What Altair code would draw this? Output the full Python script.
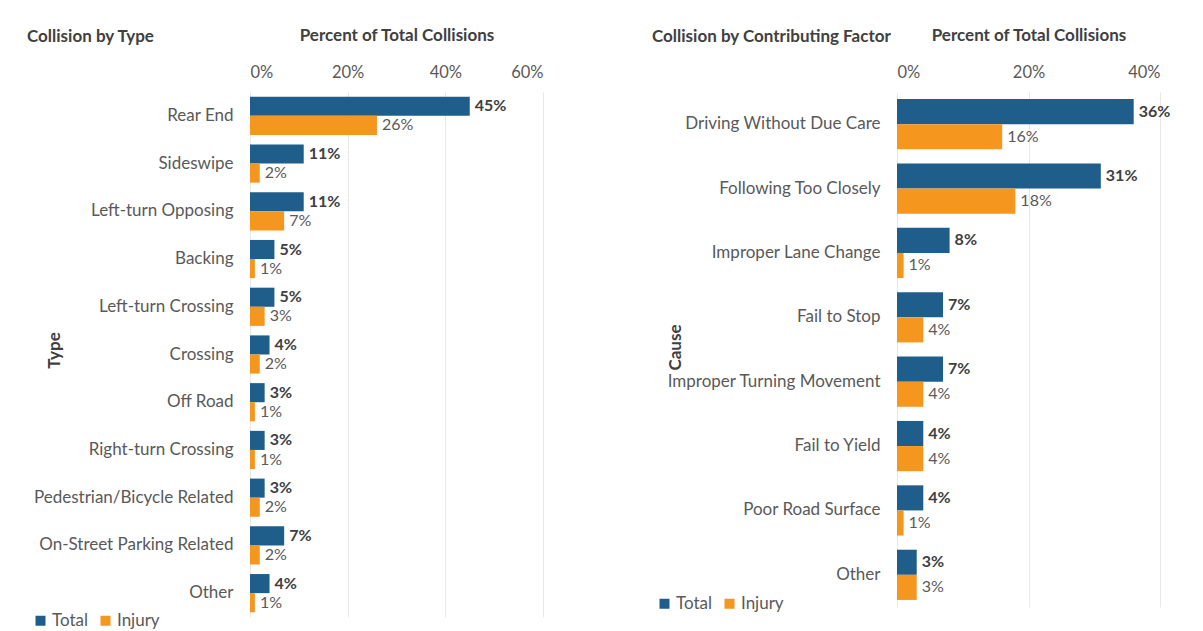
import altair as alt
import pandas as pd

type_categories = ["Rear End", "Sideswipe", "Left-turn Opposing", "Backing", "Left-turn Crossing",
                   "Crossing", "Off Road", "Right-turn Crossing", "Pedestrian/Bicycle Related",
                   "On-Street Parking Related", "Other"]
type_total = [45, 11, 11, 5, 5, 4, 3, 3, 3, 7, 4]
type_injury = [26, 2, 7, 1, 3, 2, 1, 1, 2, 2, 1]

cause_categories = ["Driving Without Due Care", "Following Too Closely", "Improper Lane Change",
                    "Fail to Stop", "Improper Turning Movement", "Fail to Yield",
                    "Poor Road Surface", "Other"]
cause_total = [36, 31, 8, 7, 7, 4, 4, 3]
cause_injury = [16, 18, 1, 4, 4, 4, 1, 3]

series_names = ["Total", "Injury"]
series_colors = ["#1F5E8A", "#F5961E"]

x_title = "Percent of Total Collisions"
FONT = "Lato"


def panel(cats, total, injury, heading, ytitle, xmax, xticks, width, height,
          title_x, title_y, leg_x, leg_y, head_dx, pad_inner):
    n = len(cats)
    df = pd.DataFrame({
        "cat": cats + cats,
        "series": ["Total"] * n + ["Injury"] * n,
        "value": total + injury,
    })
    df["label"] = df["value"].astype(str) + "%"

    y_enc = alt.Y("cat:N", sort=cats,
                  scale=alt.Scale(paddingInner=pad_inner, paddingOuter=pad_inner / 2),
                  axis=alt.Axis(title=ytitle, ticks=False, domain=False, labelFontSize=17,
                                labelColor="#595959", labelPadding=17, labelLimit=400,
                                titleFontSize=17, titleFontWeight="bold", titleColor="#404040",
                                titleX=title_x, titleY=title_y, titleAngle=-90))
    yoff = alt.YOffset("series:N", sort=series_names)
    x_enc = alt.X("value:Q", scale=alt.Scale(domain=[0, xmax], nice=False),
                  axis=alt.Axis(orient="top", values=xticks, labelExpr="datum.value + '%'",
                                ticks=False, domain=False, grid=True, gridColor="#E8E8E8",
                                labelFontSize=16.5, labelColor="#595959", labelPadding=12,
                                title=x_title, titleFontSize=17, titleFontWeight="bold",
                                titleColor="#404040", titlePadding=20))

    bars = alt.Chart(df).mark_bar().encode(
        x=x_enc, y=y_enc, yOffset=yoff,
        color=alt.Color("series:N", sort=series_names,
                        scale=alt.Scale(domain=series_names, range=series_colors),
                        legend=alt.Legend(title=None, orient="none", direction="horizontal",
                                          legendX=leg_x, legendY=leg_y, symbolType="square",
                                          symbolSize=100, symbolStrokeWidth=0,
                                          labelFontSize=17, labelColor="#595959",
                                          columnPadding=8, labelOffset=3)),
    )
    text_total = alt.Chart(df).transform_filter(alt.datum.series == "Total").mark_text(
        align="left", baseline="middle", dx=5, fontSize=16, fontWeight="bold", color="#404040"
    ).encode(x="value:Q", y=alt.Y("cat:N", sort=cats), yOffset=yoff, text="label:N")
    text_inj = alt.Chart(df).transform_filter(alt.datum.series == "Injury").mark_text(
        align="left", baseline="middle", dx=5, fontSize=16, color="#595959"
    ).encode(x="value:Q", y=alt.Y("cat:N", sort=cats), yOffset=yoff, text="label:N")

    return alt.layer(bars, text_total, text_inj).properties(
        width=width, height=height,
        title=alt.TitleParams(heading, anchor="start", frame="bounds", fontSize=17,
                              fontWeight="bold", color="#404040", dx=head_dx, dy=24, font=FONT),
    )


left = panel(type_categories, type_total, type_injury, "Collision by Type", "Type",
             60, [0, 20, 40, 60], 293, 525, -187, 258, -218, 520, -5, 0.2)
right = panel(cause_categories, cause_total, cause_injury, "Collision by Contributing Factor", "Cause",
              40, [0, 20, 40], 263, 515, -213, 255, -241, 503, -4, 0.22)

chart = alt.hconcat(left, right, spacing=109).resolve_scale(
    y="independent", x="independent", color="independent", yOffset="independent"
).resolve_legend(color="independent").properties(
    padding={"left": 19, "top": 18, "right": 5, "bottom": 5}
).configure(font=FONT).configure_view(stroke=None).configure_text(font=FONT)

chart.save("out.html", embed_options={"renderer": "svg", "actions": False})
